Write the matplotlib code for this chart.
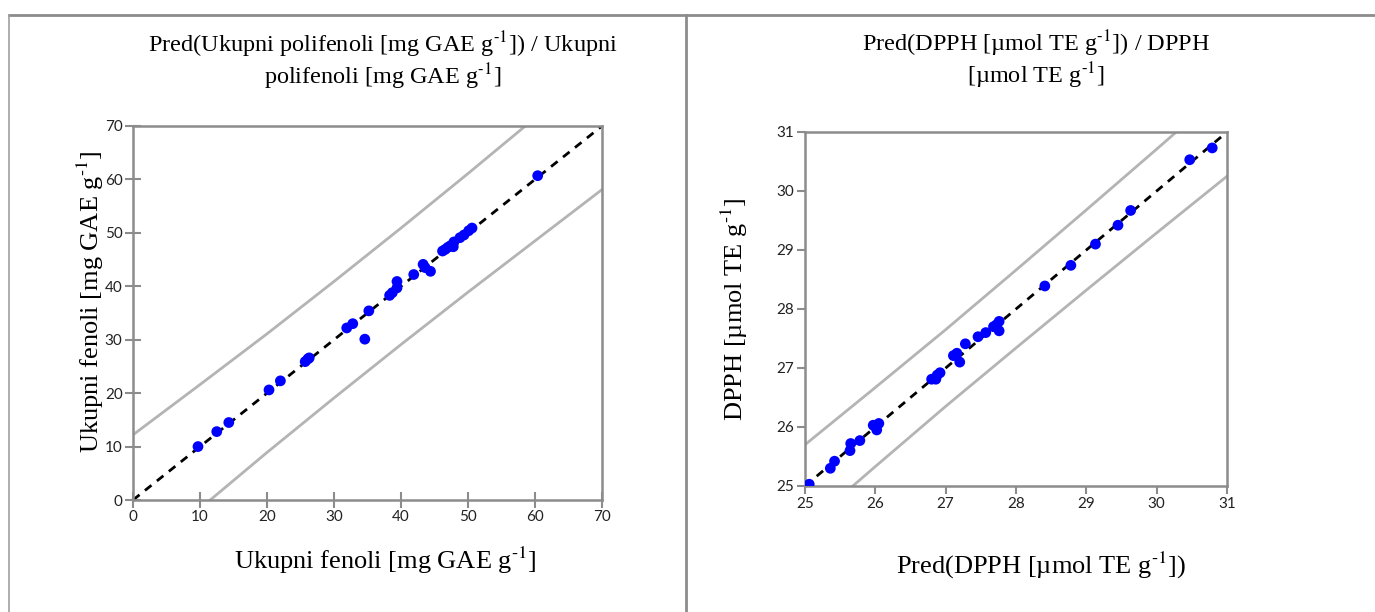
import numpy as np
import matplotlib.pyplot as plt
from matplotlib.lines import Line2D

plt.rcParams['mathtext.fontset'] = 'stix'

# left chart: predicted vs observed total phenols
fen_pred = [9.7, 12.5, 14.3, 20.3, 22.0, 25.7, 26.1, 26.3, 31.9, 32.8, 34.6, 35.2,
            38.3, 38.7, 39.4, 39.4, 41.9, 43.3, 43.6, 44.4, 46.2, 46.6, 47.0, 47.4,
            47.8, 47.9, 48.8, 49.4, 50.1, 50.6, 60.4]
fen_obs = [10.0, 12.8, 14.5, 20.6, 22.3, 25.9, 26.4, 26.6, 32.2, 33.0, 30.1, 35.4,
           38.3, 38.8, 40.9, 39.7, 42.2, 44.1, 43.5, 42.8, 46.6, 46.9, 47.3, 47.6,
           47.4, 48.3, 49.1, 49.6, 50.4, 50.9, 60.7]
fen_band_x = [0, 10, 20, 30, 40, 50, 60, 70]
fen_band_up = [12.2, 21.6, 31.1, 40.9, 50.9, 61.1, 71.5, 82.0]
fen_band_lo = [-12.2, -1.6, 8.9, 19.1, 29.1, 38.9, 48.5, 58.1]

# right chart: predicted vs observed DPPH
dpph_pred = [25.06, 25.36, 25.42, 25.64, 25.65, 25.78, 25.97, 26.02, 26.05, 26.80,
             26.86, 26.88, 26.92, 27.11, 27.16, 27.20, 27.28, 27.46, 27.57, 27.68,
             27.72, 27.76, 27.76, 28.41, 28.78, 29.13, 29.45, 29.63, 30.47, 30.79]
dpph_obs = [25.03, 25.30, 25.42, 25.60, 25.72, 25.77, 26.03, 25.95, 26.06, 26.81,
            26.81, 26.88, 26.92, 27.21, 27.25, 27.10, 27.41, 27.53, 27.60, 27.70,
            27.73, 27.79, 27.63, 28.39, 28.74, 29.10, 29.42, 29.67, 30.53, 30.73]
dpph_band_x = [25, 26, 27, 28, 29, 30, 31]
dpph_band_up = [25.70, 26.67, 27.65, 28.66, 29.68, 30.71, 31.75]
dpph_band_lo = [24.30, 25.33, 26.35, 27.34, 28.32, 29.29, 30.25]

fig = plt.figure(figsize=(13.75, 6.12), dpi=100)

grey = '#8c8c8c'
serif = 'Liberation Serif'
sup = 'g$^{\u2010\\mathrm{1}}$'

# frame lines around the two panels
fig.add_artist(Line2D([9/1375, 1], [1-15/612, 1-15/612], color=grey, lw=2))
fig.add_artist(Line2D([9/1375, 9/1375], [0, 1-15/612], color='#a0a0a0', lw=1.2))
fig.add_artist(Line2D([686/1375, 686/1375], [0, 1-15/612], color=grey, lw=2))


def panel(rect, px, py, bx, bup, blo, lim, ticks, title, xlab, ylab, tdir, tlen,
          tpad, tx, xpad, xx, ycoords):
    ax = fig.add_axes(rect)
    ax.plot(bx, bup, color='#b4b4b4', lw=2, zorder=1)
    ax.plot(bx, blo, color='#b4b4b4', lw=2, zorder=1)
    ax.plot(lim, lim, color='black', lw=2, ls=(0, (3, 2.5)), zorder=2)
    ax.scatter(px, py, s=60, color='#0000ff', zorder=3, edgecolors='none')
    ax.set_xlim(lim)
    ax.set_ylim(lim)
    ax.set_xticks(ticks)
    ax.set_yticks(ticks)
    for s in ax.spines.values():
        s.set_color(grey)
        s.set_linewidth(1.8)
    ax.tick_params(direction=tdir, length=tlen, width=1.5, color=grey,
                   labelsize=11, labelcolor='#222222', pad=2)
    for lab in ax.get_xticklabels() + ax.get_yticklabels():
        lab.set_family('Lato')
    ax.set_title(title, family=serif, fontsize=17.5, pad=tpad, linespacing=1.08, x=tx)
    ax.set_xlabel(xlab, family=serif, fontsize=19, labelpad=xpad, x=xx)
    ax.set_ylabel(ylab, family=serif, fontsize=19)
    ax.yaxis.set_label_coords(*ycoords)
    return ax


panel([133/1375, 1-500/612, 469/1375, 374/612], fen_pred, fen_obs,
      fen_band_x, fen_band_up, fen_band_lo, (0, 70), range(0, 71, 10),
      'Pred(Ukupni polifenoli [mg GAE ' + sup + ']) / Ukupni\npolifenoli [mg GAE ' + sup + ']',
      'Ukupni fenoli [mg GAE ' + sup + ']',
      'Ukupni fenoli [mg GAE ' + sup + ']', 'inout', 11,
      30, 0.533, 15, 0.537, (-0.057, 0.53))

panel([805/1375, 1-486/612, 422/1375, 354/612], dpph_pred, dpph_obs,
      dpph_band_x, dpph_band_up, dpph_band_lo, (25, 31), range(25, 32),
      'Pred(DPPH [\u00b5mol TE ' + sup + ']) / DPPH\n[\u00b5mol TE ' + sup + ']',
      'Pred(DPPH [\u00b5mol TE ' + sup + '])',
      'DPPH [\u00b5mol TE ' + sup + ']', 'out', 6,
      35, 0.547, 28, 0.56, (-0.13, 0.5))

fig.savefig('out.png', dpi=100)
